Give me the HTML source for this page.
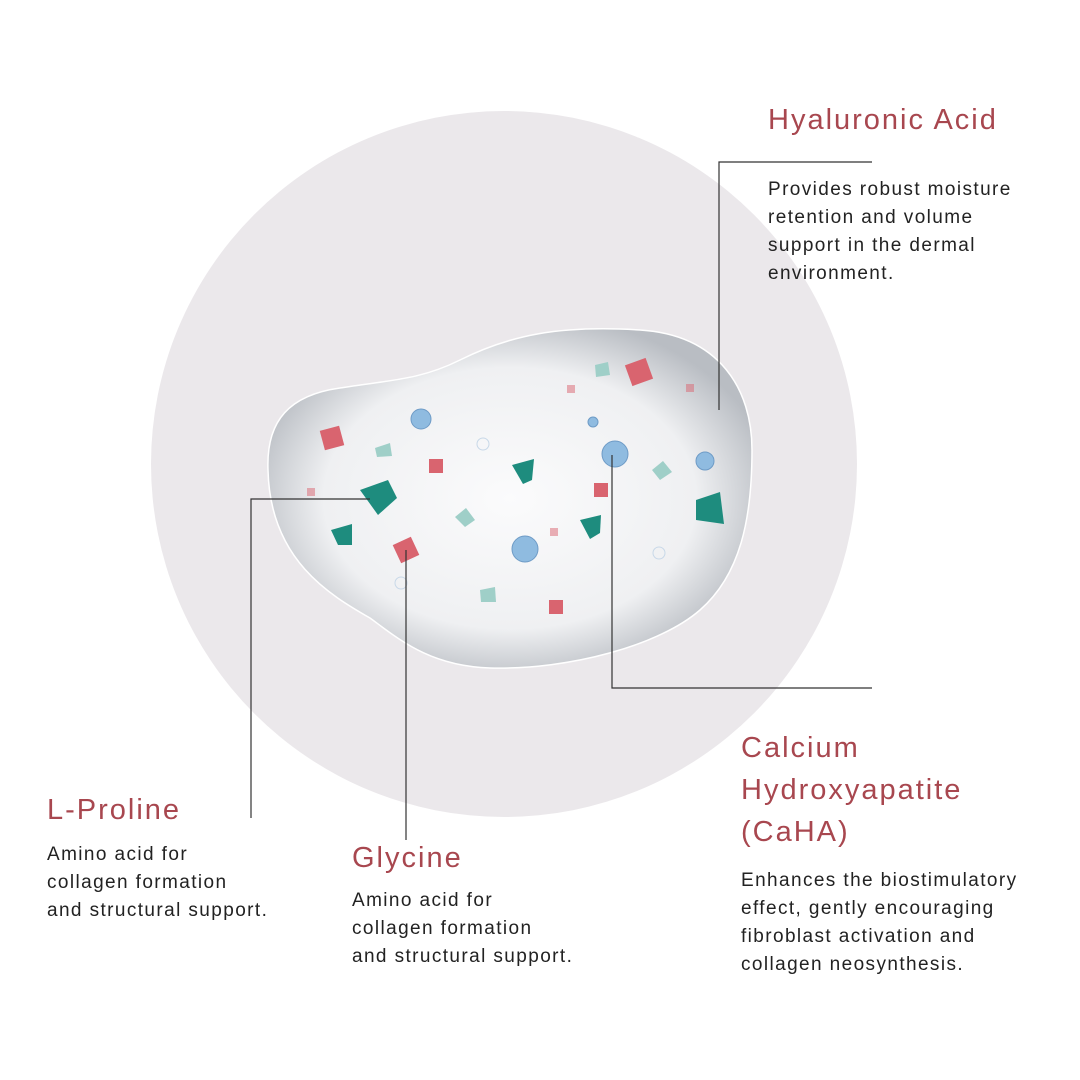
<!DOCTYPE html><html><head><style>
body{margin:0;width:1080px;height:1080px;background:#fff;position:relative;overflow:hidden;font-family:"Liberation Sans",sans-serif}
.t{position:absolute;color:#a8474f;font-size:29px;line-height:42px;letter-spacing:2px}
.b{position:absolute;color:#222;font-size:19px;line-height:28px;letter-spacing:1.4px;white-space:nowrap}
</style></head><body>
<svg width="1080" height="1080" style="position:absolute;left:0;top:0">
<defs>
<radialGradient id="g" cx="0.5" cy="0.5" r="0.55">
<stop offset="0" stop-color="#fbfbfc"/><stop offset="0.7" stop-color="#eff0f2"/><stop offset="1" stop-color="#b9bdc3"/></radialGradient>
</defs>
<circle cx="504" cy="464" r="353" fill="#ebe8eb"/>
<path d="M268,470 C266,420 290,395 340,388 C390,380 420,380 460,360 C510,335 560,325 640,330 C720,335 752,390 752,450 C752,520 740,575 700,610 C660,645 570,670 490,668 C430,666 400,640 370,618 C330,595 270,560 268,470 Z" fill="url(#g)" stroke="#fff" stroke-width="1.5"/>
<g fill="#d9646f"><rect x="322" y="428" width="20" height="20" transform="rotate(-15 332 438)"/><rect x="628" y="361" width="22" height="22" transform="rotate(-20 639 372)"/><rect x="396" y="540" width="20" height="20" transform="rotate(-25 406 550)"/><rect x="429" y="459" width="14" height="14"/><rect x="594" y="483" width="14" height="14"/><rect x="549" y="600" width="14" height="14"/><rect x="550" y="528" width="8" height="8" opacity=".5"/><rect x="567" y="385" width="8" height="8" opacity=".5"/><rect x="686" y="384" width="8" height="8" opacity=".5"/><rect x="307" y="488" width="8" height="8" opacity=".5"/></g>
<g fill="#1e8c7e"><polygon points="360,490 388,480 397,498 378,515"/><polygon points="512,465 534,459 532,480 523,484"/><polygon points="331,530 352,524 352,545 338,545"/><polygon points="580,520 601,515 600,533 590,539"/><polygon points="696,500 720,492 724,524 696,520"/></g>
<g fill="#9fcfc8"><polygon points="375,448 390,443 392,456 377,457"/><polygon points="595,365 608,362 610,375 596,377"/><polygon points="455,517 466,508 475,520 465,527"/><polygon points="652,470 663,461 672,472 660,480"/><polygon points="480,590 495,587 496,602 481,602"/></g>
<g fill="#8fbbe0" stroke="#6e9bc6"><circle cx="421" cy="419" r="10"/><circle cx="615" cy="454" r="13"/><circle cx="525" cy="549" r="13"/><circle cx="705" cy="461" r="9"/><circle cx="593" cy="422" r="5"/></g>
<g fill="none" stroke="#c8d8e8"><circle cx="483" cy="444" r="6"/><circle cx="659" cy="553" r="6"/><circle cx="401" cy="583" r="6"/></g>
<g stroke="#333" stroke-width="1.2" fill="none">
<polyline points="872,162 719,162 719,410"/>
<polyline points="370,499 251,499 251,818"/>
<line x1="406" y1="550" x2="406" y2="840"/>
<polyline points="612,455 612,688 872,688"/>
</g>
</svg>
<div class="t" style="left:768px;top:99px">Hyaluronic Acid</div>
<div class="b" style="left:768px;top:176px">Provides robust moisture<br>retention and volume<br>support in the dermal<br>environment.</div>
<div class="t" style="left:47px;top:789px">L-Proline</div>
<div class="b" style="left:47px;top:841px">Amino acid for<br>collagen formation<br>and structural support.</div>
<div class="t" style="left:352px;top:837px">Glycine</div>
<div class="b" style="left:352px;top:887px">Amino acid for<br>collagen formation<br>and structural support.</div>
<div class="t" style="left:741px;top:727px">Calcium<br>Hydroxyapatite<br>(CaHA)</div>
<div class="b" style="left:741px;top:867px">Enhances the biostimulatory<br>effect, gently encouraging<br>fibroblast activation and<br>collagen neosynthesis.</div>
</body></html>
